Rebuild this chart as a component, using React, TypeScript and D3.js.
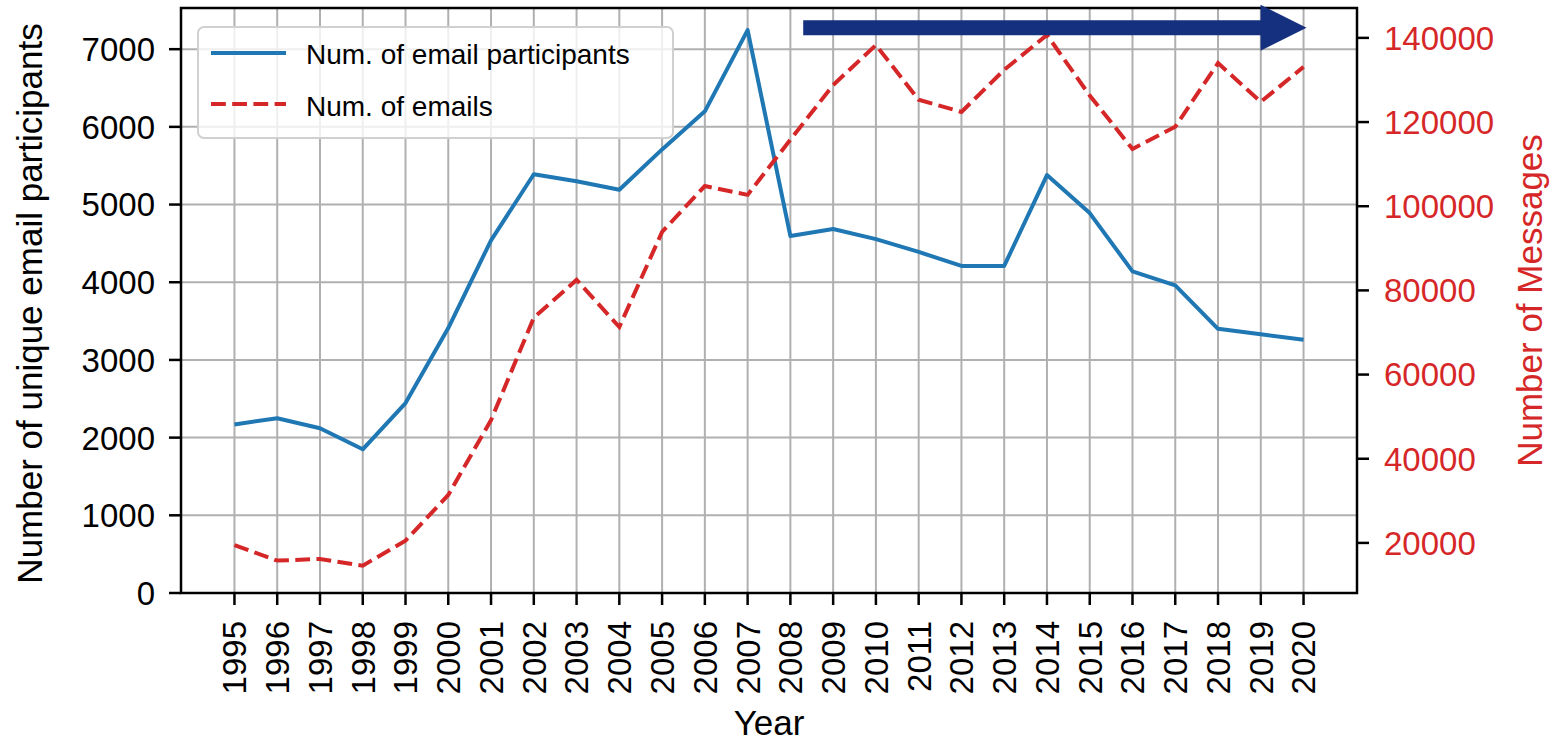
import React from 'react'
import * as d3 from 'd3'

const years = [
  1995, 1996, 1997, 1998, 1999, 2000, 2001, 2002, 2003, 2004, 2005, 2006, 2007,
  2008, 2009, 2010, 2011, 2012, 2013, 2014, 2015, 2016, 2017, 2018, 2019, 2020,
]
const participants = [
  2170, 2250, 2120, 1850, 2445, 3410, 4540, 5390, 5300, 5190, 5710, 6200, 7245,
  4594, 4685, 4555, 4390, 4210, 4210, 5380, 4890, 4140, 3960, 3400, 3330, 3260,
]
const emails = [
  19500, 15800, 16200, 14600, 20550, 31400, 49200, 73500, 82500, 71300, 93900,
  104800, 102700, 115800, 128800, 138300, 125300, 122400, 132400, 140700, 126300,
  113600, 118900, 134000, 124800, 133100,
]
const leftTicks = [0, 1000, 2000, 3000, 4000, 5000, 6000, 7000]
const rightTicks = [20000, 40000, 60000, 80000, 100000, 120000, 140000]
const legendLabels = ['Num. of email participants', 'Num. of emails']
// arrow annotation, in data units (x: year, y: right axis)
const arrowFrom = [2008.3, 142400]
const arrowTo = [2020.07, 142400]

const W = 1550
const H = 742
const left = 181
const right = 1357
const top = 8
const bottom = 593
const FONT = '"Liberation Sans", Arial, Helvetica, sans-serif'
const BLUE = '#1f77b4'
const RED = '#d62728'
const NAVY = '#15307f'

export default function App() {
  const x = d3.scaleLinear().domain([1993.75, 2021.25]).range([left, right])
  const yL = d3.scaleLinear().domain([0, 7530]).range([bottom, top])
  const yR = d3.scaleLinear().domain([8100, 147100]).range([bottom, top])

  const lineL = d3.line<number>().x((_, i) => x(years[i])).y(d => yL(d))
  const lineR = d3.line<number>().x((_, i) => x(years[i])).y(d => yR(d))

  const ax0 = x(arrowFrom[0])
  const ax1 = x(arrowTo[0])
  const ay = yR(arrowFrom[1])
  const headLen = 46
  const headHalf = 23
  const shaftHalf = 7.5

  return (
    <svg width={W} height={H} style={{ position: 'absolute', left: 0, top: 0, background: '#fff' }} fontFamily={FONT}>
      {/* grid */}
      <g stroke="#b0b0b0" strokeWidth={2}>
        {years.map(yr => (
          <line key={'gx' + yr} x1={x(yr)} x2={x(yr)} y1={top} y2={bottom} />
        ))}
        {leftTicks.map(t => (
          <line key={'gy' + t} x1={left} x2={right} y1={yL(t)} y2={yL(t)} />
        ))}
      </g>

      {/* series */}
      <path d={lineL(participants) ?? ''} fill="none" stroke={BLUE} strokeWidth={4} strokeLinejoin="round" />
      <path d={lineR(emails) ?? ''} fill="none" stroke={RED} strokeWidth={4} strokeDasharray="14.8,6.4" />

      {/* spines */}
      <rect x={left} y={top} width={right - left} height={bottom - top} fill="none" stroke="#000" strokeWidth={2.5} />

      {/* left axis */}
      <g fontSize={33} fill="#000">
        {leftTicks.map(t => (
          <g key={'lt' + t}>
            <line x1={left - 12} x2={left} y1={yL(t)} y2={yL(t)} stroke="#000" strokeWidth={2.5} />
            <text x={left - 26} y={yL(t)} dy="0.36em" textAnchor="end">{t}</text>
          </g>
        ))}
      </g>
      <text transform={`translate(42,${(top + bottom) / 2 + 3}) rotate(-90)`} textAnchor="middle" fontSize={35}>
        Number of unique email participants
      </text>

      {/* right axis */}
      <g fontSize={33} fill={RED}>
        {rightTicks.map(t => (
          <g key={'rt' + t}>
            <line x1={right} x2={right + 12} y1={yR(t)} y2={yR(t)} stroke="#000" strokeWidth={2.5} />
            <text x={right + 27} y={yR(t)} dy="0.36em">{t}</text>
          </g>
        ))}
      </g>
      <text transform={`translate(1542,${(top + bottom) / 2}) rotate(-90)`} textAnchor="middle" fontSize={35} fill={RED}>
        Number of Messages
      </text>

      {/* x axis */}
      <g fontSize={33}>
        {years.map(yr => (
          <g key={'xt' + yr}>
            <line x1={x(yr)} x2={x(yr)} y1={bottom} y2={bottom + 12} stroke="#000" strokeWidth={2.5} />
            <text transform={`translate(${x(yr)},${bottom + 28}) rotate(-90)`} dy="0.36em" textAnchor="end">{yr}</text>
          </g>
        ))}
      </g>
      <text x={(left + right) / 2} y={735} textAnchor="middle" fontSize={35}>Year</text>

      {/* legend */}
      <g>
        <rect x={198} y={27} width={475} height={111} rx={6} fill="#fff" fillOpacity={0.8} stroke="#d0d0d0" strokeWidth={2} />
        <line x1={211} x2={286} y1={53} y2={53} stroke={BLUE} strokeWidth={4} />
        <line x1={211} x2={286} y1={104} y2={104} stroke={RED} strokeWidth={4} strokeDasharray="14.8,6.4" />
        <text x={306} y={64} fontSize={28}>{legendLabels[0]}</text>
        <text x={306} y={116} fontSize={28}>{legendLabels[1]}</text>
      </g>

      {/* arrow */}
      <path
        d={`M${ax0},${ay - shaftHalf} L${ax1 - headLen},${ay - shaftHalf} L${ax1 - headLen},${ay - headHalf} L${ax1},${ay} L${ax1 - headLen},${ay + headHalf} L${ax1 - headLen},${ay + shaftHalf} L${ax0},${ay + shaftHalf} Z`}
        fill={NAVY}
      />
    </svg>
  )
}
